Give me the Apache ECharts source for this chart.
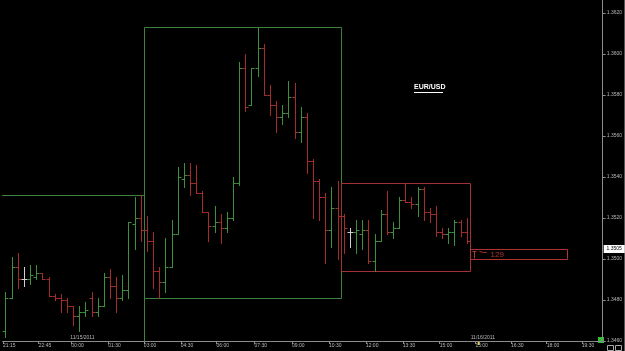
<!DOCTYPE html>
<html>
<head>
    <meta charset="UTF-8">
    <title>EUR/USD</title>
    <script type="text/javascript" src="https://cdn.jsdelivr.net/npm/echarts@6/dist/echarts.min.js"></script>
    <style type="text/css">
        body { margin: 0; background: #000; }
        #price_chart { width: 625px; height: 351px; }
    </style>
</head>
<body>
<div id="price_chart"></div>

<script type="text/javascript">
    // 15 min bars, index 0 = first bar on the left
    var opens = [1.3465, 1.3481, 1.3496, 1.3490, 1.3490, 1.3491, 1.3493, 1.3490, 1.3482, 1.3481,
        1.3480, 1.3477, 1.3472, 1.3474, 1.3481, 1.3474, 1.3477, 1.3491, 1.3487, 1.3481,
        1.3485, 1.3517, 1.3520, 1.3514, 1.3509, 1.3494, 1.3489, 1.3496, 1.3512, 1.3539,
        1.3541, 1.3537, 1.3532, 1.3523, 1.3516, 1.3518, 1.3515, 1.3520, 1.3537, 1.3593,
        1.3575, 1.3593, 1.3603, 1.3580, 1.3575, 1.3569, 1.3571, 1.3579, 1.3562, 1.3569,
        1.3548, 1.3538, 1.3530, 1.3514, 1.3525, 1.3521, 1.3513, 1.3513, 1.3512, 1.3514,
        1.3499, 1.3509, 1.3522, 1.3513, 1.3515, 1.3529, 1.3528, 1.3527, 1.3534, 1.3523,
        1.3522, 1.3513, 1.3512, 1.3513, 1.3518, 1.3513];
    var highs = [1.3484, 1.3501, 1.3503, 1.3496, 1.3497, 1.3497, 1.3493, 1.3491, 1.3483, 1.3483,
        1.3481, 1.3477, 1.3477, 1.3479, 1.3484, 1.3481, 1.3493, 1.3495, 1.3491, 1.3492,
        1.3518, 1.3530, 1.3531, 1.3521, 1.3513, 1.3496, 1.3510, 1.3519, 1.3545, 1.3547,
        1.3547, 1.3546, 1.3533, 1.3523, 1.3526, 1.3522, 1.3523, 1.3540, 1.3596, 1.3600,
        1.3593, 1.3613, 1.3605, 1.3585, 1.3577, 1.3575, 1.3587, 1.3586, 1.3574, 1.3571,
        1.3549, 1.3539, 1.3532, 1.3535, 1.3538, 1.3522, 1.3515, 1.3519, 1.3519, 1.3519,
        1.3512, 1.3524, 1.3533, 1.3518, 1.3530, 1.3537, 1.3530, 1.3535, 1.3535, 1.3525,
        1.3526, 1.3515, 1.3515, 1.3519, 1.3519, 1.3520];
    var lows = [1.3462, 1.3481, 1.3486, 1.3487, 1.3488, 1.3490, 1.3490, 1.3482, 1.3480, 1.3474,
        1.3474, 1.3468, 1.3465, 1.3472, 1.3472, 1.3472, 1.3477, 1.3481, 1.3474, 1.3480,
        1.3481, 1.3505, 1.3509, 1.3504, 1.3486, 1.3481, 1.3484, 1.3496, 1.3512, 1.3535,
        1.3531, 1.3532, 1.3523, 1.3509, 1.3513, 1.3508, 1.3513, 1.3519, 1.3536, 1.3572,
        1.3575, 1.3589, 1.3580, 1.3570, 1.3562, 1.3566, 1.3569, 1.3559, 1.3557, 1.3542,
        1.3520, 1.3519, 1.3498, 1.3506, 1.3500, 1.3503, 1.3506, 1.3503, 1.3505, 1.3498,
        1.3494, 1.3509, 1.3512, 1.3510, 1.3515, 1.3528, 1.3525, 1.3521, 1.3519, 1.3518,
        1.3511, 1.3510, 1.3508, 1.3507, 1.3511, 1.3508];
    var closes = [1.3481, 1.3496, 1.3490, 1.3490, 1.3492, 1.3493, 1.3490, 1.3482, 1.3481, 1.3480,
        1.3477, 1.3472, 1.3474, 1.3475, 1.3474, 1.3477, 1.3491, 1.3487, 1.3481, 1.3485,
        1.3518, 1.3520, 1.3514, 1.3509, 1.3494, 1.3489, 1.3496, 1.3512, 1.3540, 1.3541,
        1.3537, 1.3532, 1.3523, 1.3516, 1.3518, 1.3515, 1.3520, 1.3537, 1.3593, 1.3574,
        1.3593, 1.3603, 1.3580, 1.3575, 1.3569, 1.3571, 1.3579, 1.3562, 1.3569, 1.3548,
        1.3538, 1.3530, 1.3514, 1.3525, 1.3521, 1.3515, 1.3513, 1.3514, 1.3514, 1.3499,
        1.3509, 1.3522, 1.3513, 1.3515, 1.3529, 1.3528, 1.3527, 1.3534, 1.3523, 1.3522,
        1.3513, 1.3512, 1.3513, 1.3518, 1.3513, 1.3509];

    // time labels and where they sit (in bar index units)
    var timeLabels = ['21:15', '22:45', '00:00', '01:30', '03:00', '04:30', '06:00', '07:30', '09:00',
        '10:30', '12:00', '13:30', '15:00', '15:00', '16:30', '18:00', '19:30'];
    var timeTicks = [-0.4, 5.4, 10.7, 16.7, 22.5, 28.5, 34.3, 40.5, 46.6,
        52.6, 58.6, 64.6, 70.6, 76.4, 82.2, 88.0, 93.7];
    var dayLabels = ['11/15/2011', '11/16/2011'];
    var dayTicks = [10.7, 75.8];

    // session boxes: first bar of each session, last one ends the data
    var sessionStarts = [0, 23, 55];
    var sessionColors = ['#3f7f3f', '#3f7f3f', '#a33131'];
    // the first session began before the visible bars, its box runs off the chart
    var firstSessionFrom = -4, firstSessionLow = 1.3440;

    // projected range box at the right
    var projFrom = 75.5, projTo = 91.3;
    var projLow = 1.3500, projHigh = 1.3505;
    var projText = '129';
    var lastPrice = 1.3505;

    var upColor = '#3d8f3d', downColor = '#a52c2c', flatColor = '#d0d0d0';
    var axisColor = '#8c8c8c', textColor = '#b8b8b8';
    var font = 'Liberation Sans';
    var yMin = 1.346, yMax = 1.36263;

    var bars = [];
    for (var i = 0; i < closes.length; i++) {
        bars.push([i, opens[i], highs[i], lows[i], closes[i]]);
    }

    var boxes = [];
    for (var s = 0; s < sessionStarts.length; s++) {
        var a = sessionStarts[s];
        var b = s + 1 < sessionStarts.length ? sessionStarts[s + 1] : closes.length;
        var hi = Math.max.apply(null, highs.slice(a, b));
        var lo = Math.min.apply(null, lows.slice(a, b));
        if (s === 0) {
            boxes.push([firstSessionFrom, b - 0.5, hi, firstSessionLow, s]);
        } else {
            boxes.push([a - 0.5, b - 0.5, hi, lo, s]);
        }
    }

    function crisp(v) { return Math.round(v) + 0.5; }

    function renderBar(params, api) {
        var x = api.value(0), o = api.value(1), h = api.value(2), l = api.value(3), c = api.value(4);
        var top = api.coord([x, h]), bot = api.coord([x, l]);
        var po = api.coord([x, o]), pc = api.coord([x, c]);
        var cx = crisp(top[0]);
        var color = c > o ? upColor : (c < o ? downColor : flatColor);
        var st = { stroke: color, lineWidth: 1 };
        return {
            type: 'group',
            children: [
                { type: 'line', shape: { x1: cx, y1: Math.round(top[1]), x2: cx, y2: Math.round(bot[1]) + 1 }, style: st },
                { type: 'line', shape: { x1: cx - 3, y1: crisp(po[1]), x2: cx, y2: crisp(po[1]) }, style: st },
                { type: 'line', shape: { x1: cx, y1: crisp(pc[1]), x2: cx + 3, y2: crisp(pc[1]) }, style: st }
            ]
        };
    }

    function renderBox(params, api) {
        var p1 = api.coord([api.value(0), api.value(2)]);
        var p2 = api.coord([api.value(1), api.value(3)]);
        var x1 = crisp(p1[0]), y1 = crisp(p1[1]), x2 = crisp(p2[0]), y2 = crisp(p2[1]);
        return {
            type: 'rect',
            shape: { x: x1, y: y1, width: x2 - x1, height: y2 - y1 },
            style: { fill: 'none', stroke: sessionColors[api.value(4)], lineWidth: 1 }
        };
    }

    function renderProj(params, api) {
        var p1 = api.coord([api.value(0), api.value(2)]);
        var p2 = api.coord([api.value(1), api.value(3)]);
        var x1 = crisp(p1[0]), y1 = crisp(p1[1]), x2 = crisp(p2[0]), y2 = crisp(p2[1]);
        var red = '#b03333';
        return {
            type: 'group',
            children: [
                { type: 'rect', shape: { x: x1, y: y1, width: x2 - x1, height: y2 - y1 },
                    style: { fill: 'none', stroke: red, lineWidth: 1 } },
                { type: 'polyline', shape: { points: [[x1 + 2, y1 + 2], [x1 + 6, y1 + 2]] },
                    style: { stroke: red, lineWidth: 1, fill: 'none' } },
                { type: 'line', shape: { x1: x1 + 4, y1: y1 + 2, x2: x1 + 4, y2: y2 - 1 },
                    style: { stroke: red, lineWidth: 1 } },
                { type: 'polyline', shape: { points: [[x1 + 9, y1 + 2], [x1 + 13, y1 + 3], [x1 + 16, y1 + 3]] },
                    style: { stroke: red, lineWidth: 1, fill: 'none' } },
                { type: 'text', x: x1 + 20, y: (y1 + y2) / 2,
                    style: { text: projText, fill: red, font: '8px "' + font + '"', verticalAlign: 'middle', align: 'left' } }
            ]
        };
    }

    var chart = echarts.init(document.getElementById('price_chart'));

    chart.setOption({
        backgroundColor: '#000',
        animation: false,
        title: {
            text: 'EUR/USD',
            left: 414,
            top: 84,
            padding: 0,
            textStyle: { color: '#fff', fontSize: 7, fontWeight: 'bold', fontFamily: font }
        },
        grid: { left: 0, right: 22, top: 0, bottom: 10 },
        xAxis: {
            type: 'value',
            min: -0.45,
            max: 97.1,
            axisLine: { lineStyle: { color: axisColor } },
            axisTick: { customValues: timeTicks, length: 3, lineStyle: { color: axisColor } },
            axisLabel: {
                customValues: timeTicks,
                align: 'left',
                fontSize: 5,
                fontFamily: font,
                color: textColor,
                margin: 2,
                formatter: function (v) {
                    var best = 0;
                    for (var k = 1; k < timeTicks.length; k++) {
                        if (Math.abs(timeTicks[k] - v) < Math.abs(timeTicks[best] - v)) best = k;
                    }
                    return timeLabels[best];
                }
            },
            splitLine: { show: false }
        },
        yAxis: {
            type: 'value',
            position: 'right',
            min: yMin,
            max: yMax,
            interval: 0.002,
            axisLine: { show: true, onZero: false, lineStyle: { color: axisColor } },
            axisTick: { show: true, length: 3, lineStyle: { color: axisColor } },
            axisLabel: {
                fontSize: 5,
                fontFamily: font,
                color: textColor,
                margin: 4,
                showMaxLabel: false,
                formatter: function (v) { return v.toFixed(4); }
            },
            splitLine: { show: false }
        },
        series: [
            {
                type: 'custom',
                name: 'sessions',
                renderItem: renderBox,
                clip: true,
                encode: { x: [0, 1], y: [2, 3] },
                data: boxes,
                z: 1
            },
            {
                type: 'custom',
                name: 'EUR/USD',
                renderItem: renderBar,
                clip: true,
                encode: { x: 0, y: [1, 2, 3, 4] },
                data: bars,
                z: 2
            },
            {
                type: 'custom',
                name: 'range',
                renderItem: renderProj,
                clip: true,
                encode: { x: [0, 1], y: [2, 3] },
                data: [[projFrom, projTo, projHigh, projLow]],
                z: 2
            }
        ]
    });

    // small decorations: title underline, day labels, last price tag, corner markers
    var gfx = [
        { type: 'line', shape: { x1: 414, y1: 92.5, x2: 443, y2: 92.5 }, style: { stroke: '#fff', lineWidth: 1 } },
        { type: 'line', shape: { x1: 624.5, y1: 0, x2: 624.5, y2: 351 }, style: { stroke: '#555', lineWidth: 1 } },
        { type: 'rect', shape: { x: 598, y: 337, width: 6, height: 6 }, style: { fill: '#2fc02f' } },
        { type: 'rect', shape: { x: 607.5, y: 345.5, width: 6, height: 5 }, style: { fill: 'none', stroke: '#aaa' } },
        { type: 'rect', shape: { x: 615.5, y: 345.5, width: 6, height: 5 }, style: { fill: 'none', stroke: '#aaa' } }
    ];
    for (var d = 0; d < dayLabels.length; d++) {
        var px = chart.convertToPixel({ gridIndex: 0 }, [dayTicks[d], yMin]);
        gfx.push({
            type: 'text',
            x: px[0] - 1,
            y: px[1] - 6,
            style: { text: dayLabels[d], fill: textColor, font: '5px "' + font + '"' }
        });
    }
    var mk = chart.convertToPixel({ gridIndex: 0 }, [dayTicks[1], yMin]);
    gfx.push({ type: 'rect', shape: { x: mk[0] + 6, y: mk[1] + 1, width: 2, height: 3 }, style: { fill: '#e8d84a' } });

    var lp = chart.convertToPixel({ gridIndex: 0 }, [97.1, lastPrice]);
    gfx.push({ type: 'rect', z: 10, shape: { x: lp[0] + 1, y: Math.round(lp[1]) - 4, width: 21, height: 8 }, style: { fill: '#fff' } });
    gfx.push({ type: 'text', z: 11, x: lp[0] + 11.5, y: Math.round(lp[1]),
        style: { text: lastPrice.toFixed(4), fill: '#000', font: '5px "' + font + '"', align: 'center', verticalAlign: 'middle' } });
    chart.setOption({ graphic: gfx });
</script>
</body>
</html>
